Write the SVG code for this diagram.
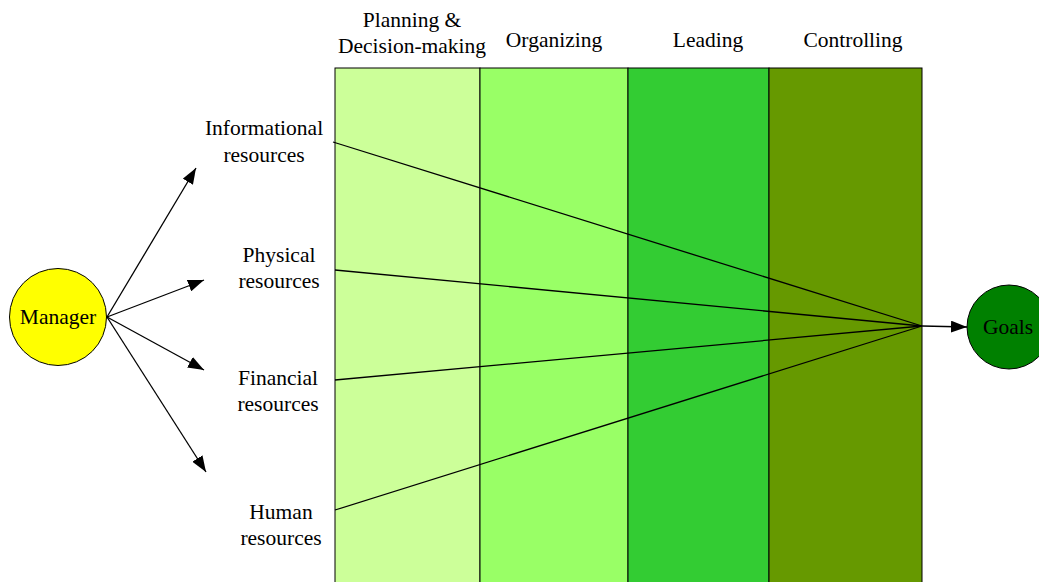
<svg xmlns="http://www.w3.org/2000/svg" width="1039" height="582" viewBox="0 0 1039 582">
<style>
text{font-family:"Liberation Serif","Times New Roman",serif;font-size:21.5px;fill:#000;text-anchor:middle}
.col{stroke:#000;stroke-width:1}
.ln{stroke:#000;stroke-width:1.3;fill:none}
</style>
<defs>
<marker id="ah2" viewBox="0 0 16 12" refX="16" refY="6" markerWidth="16" markerHeight="12" markerUnits="userSpaceOnUse" orient="auto"><path d="M0,0 L16,6 L0,12 Z" fill="#000"/></marker>
</defs>
<g id="columns">
<rect class="col" x="335" y="68" width="145" height="520" fill="#ccff99" stroke="#666"/>
<rect class="col" x="480" y="68" width="148" height="520" fill="#99ff66"/>
<rect class="col" x="628" y="68" width="141" height="520" fill="#33cc33"/>
<rect class="col" x="769" y="68" width="153" height="520" fill="#669900"/>
<text x="412" y="27">Planning &amp;</text>
<text x="412" y="53">Decision-making</text>
<text x="554" y="47">Organizing</text>
<text x="708" y="47">Leading</text>
<text x="853" y="47">Controlling</text>
</g>
<g id="manager">
<circle cx="58" cy="317" r="48.5" fill="#ffff00" stroke="#000" stroke-width="1"/>
<text x="58" y="324">Manager</text>
</g>
<g id="goals">
<circle cx="1009" cy="327" r="42" fill="#008000" stroke="#000" stroke-width="1"/>
<text x="1008" y="334">Goals</text>
</g>
<g id="informational"><text x="264" y="135">Informational</text><text x="264" y="162">resources</text></g>
<g id="physical"><text x="279" y="262">Physical</text><text x="279" y="288">resources</text></g>
<g id="financial"><text x="278" y="385">Financial</text><text x="278" y="411">resources</text></g>
<g id="human"><text x="281" y="519">Human</text><text x="281" y="545">resources</text></g>
<g id="connectors">
<line class="ln" x1="107" y1="317" x2="196" y2="168" marker-end="url(#ah2)"/>
<line class="ln" x1="107" y1="317" x2="204" y2="280" marker-end="url(#ah2)"/>
<line class="ln" x1="107" y1="317" x2="204" y2="370" marker-end="url(#ah2)"/>
<line class="ln" x1="107" y1="317" x2="206" y2="472" marker-end="url(#ah2)"/>
<line class="ln" x1="333" y1="142" x2="922" y2="326"/>
<line class="ln" x1="335" y1="270" x2="922" y2="326"/>
<line class="ln" x1="335" y1="380" x2="922" y2="326"/>
<line class="ln" x1="335" y1="510" x2="922" y2="326"/>
<line class="ln" x1="922" y1="326" x2="967" y2="327" marker-end="url(#ah2)"/>
</g>
</svg>
